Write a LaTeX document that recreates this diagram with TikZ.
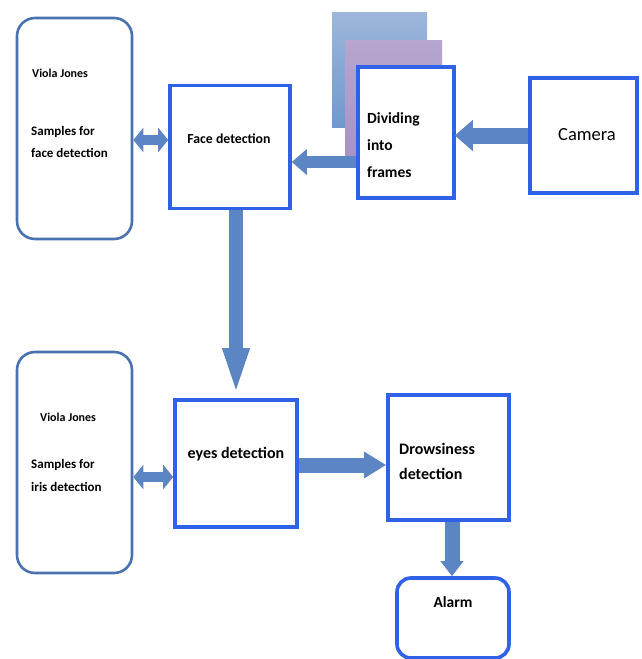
\documentclass[tikz,border=0pt]{standalone}
\usepackage{fontspec}
\setmainfont{Carlito}
\usetikzlibrary{arrows.meta}
\definecolor{boxblue}{HTML}{2F62E8}
\definecolor{roundblue}{HTML}{4A72B0}
\definecolor{arrblue}{HTML}{5B86C3}
\definecolor{frameA}{HTML}{9DB7DC}
\definecolor{frameB}{HTML}{5683C2}
\definecolor{frameC}{HTML}{7098CE}
\definecolor{purpA}{HTML}{B6A6CE}
\definecolor{purpB}{HTML}{8A6EAF}
\definecolor{purpC}{HTML}{A793C6}
\tikzset{
  box/.style={draw=boxblue, line width=3.6pt, fill=white, inner sep=0pt},
  rbox/.style={draw=roundblue, line width=2.6pt, fill=white, rounded corners=18pt, inner sep=0pt},
  txt/.style={font=\bfseries\fontsize{13}{15}\selectfont, inner sep=0pt, anchor=west},
  bigtxt/.style={font=\bfseries\fontsize{16}{18}\selectfont, inner sep=0pt},
  blockarr/.style={draw=arrblue, line width=#1},
}
\begin{document}
\begin{tikzpicture}[x=1pt,y=-1pt]
\useasboundingbox (0,0) rectangle (642,659);
% stacked frames
\fill[top color=frameA, middle color=frameB, bottom color=frameC] (332,12) rectangle (427,127);
\fill[top color=purpA, middle color=purpB, bottom color=purpC] (345,40) rectangle (442,155);
% boxes
\node[rbox, minimum width=115pt, minimum height=221pt] (v1) at (74.5,128.5) {};
\node[box, minimum width=120pt, minimum height=123pt] (face) at (230,147) {};
\node[box, minimum width=96pt, minimum height=131pt] (div) at (406,132.5) {};
\node[box, minimum width=107pt, minimum height=115pt] (cam) at (583.5,135.5) {};
\node[rbox, minimum width=115pt, minimum height=221pt] (v2) at (74.5,462.5) {};
\node[box, minimum width=122pt, minimum height=127pt] (eyes) at (236,463.5) {};
\node[box, minimum width=121pt, minimum height=125pt] (drow) at (448.5,457.5) {};
\node[draw=boxblue, line width=3.6pt, fill=white, rounded corners=14pt, inner sep=0pt, minimum width=112pt, minimum height=80pt] (alarm) at (453,618) {};
% texts
\node[txt, font=\bfseries\fontsize{12}{14}\selectfont] (v1a) at (32,73) {Viola Jones};
\node[txt, align=left, font=\bfseries\fontsize{13}{22}\selectfont] (v1b) at (31,142) {Samples for\\face detection};
\node[txt, anchor=center, font=\bfseries\fontsize{13.8}{16}\selectfont] (facet) at (229,139) {Face detection};
\node[bigtxt, anchor=west, align=left, font=\bfseries\fontsize{15.5}{27}\selectfont] (divt) at (367,145) {Dividing\\into\\frames};
\node[font=\fontsize{18.5}{20}\selectfont, inner sep=0pt] (camt) at (587,135) {Camera};
\node[txt, font=\bfseries\fontsize{12}{14}\selectfont] (v2a) at (40,417) {Viola Jones};
\node[txt, align=left, font=\bfseries\fontsize{13}{23}\selectfont] (v2b) at (31,475) {Samples for\\iris detection};
\node[bigtxt] (eyest) at (236,454) {eyes detection};
\node[bigtxt, anchor=west, align=left, font=\bfseries\fontsize{16}{25}\selectfont] (drowt) at (399,461) {Drowsiness\\detection};
\node[bigtxt, font=\bfseries\fontsize{15.5}{18}\selectfont] (alarmt) at (453,602) {Alarm};
% arrows
\draw[blockarr=16pt, -{Triangle[width=30pt,length=18pt]}, shorten >=-1pt] (cam.west) -- (cam.west -| div.east);
\draw[blockarr=12pt, -{Triangle[width=25pt,length=15pt]}] ([yshift=-29.5pt]div.west) -- ([yshift=-29.5pt]div.west -| face.east);
\draw[blockarr=10pt, {Triangle[width=24pt,length=10pt]}-{Triangle[width=24pt,length=10pt]}] ([yshift=7pt]face.west) -- ([yshift=7pt]face.west -| v1.east);
\draw[blockarr=14pt, -{Triangle[width=23pt,length=50pt]}] (eyes.north |- face.south) -- (eyes.north);
\draw[blockarr=10pt, {Triangle[width=24pt,length=10pt]}-{Triangle[width=24pt,length=10pt]}] ([yshift=-13.5pt]eyes.west) -- ([yshift=-13.5pt]eyes.west -| v2.east);
\draw[blockarr=15pt, -{Triangle[width=25pt,length=22pt]}] ([yshift=-1.5pt]eyes.east) -- ([yshift=-1.5pt]eyes.east -| drow.west);
\draw[blockarr=15pt, -{Triangle[width=22pt,length=15pt]}] ([xshift=3.5pt]drow.south) -- ([xshift=3.5pt]drow.south |- alarm.north);
\end{tikzpicture}
\end{document}
